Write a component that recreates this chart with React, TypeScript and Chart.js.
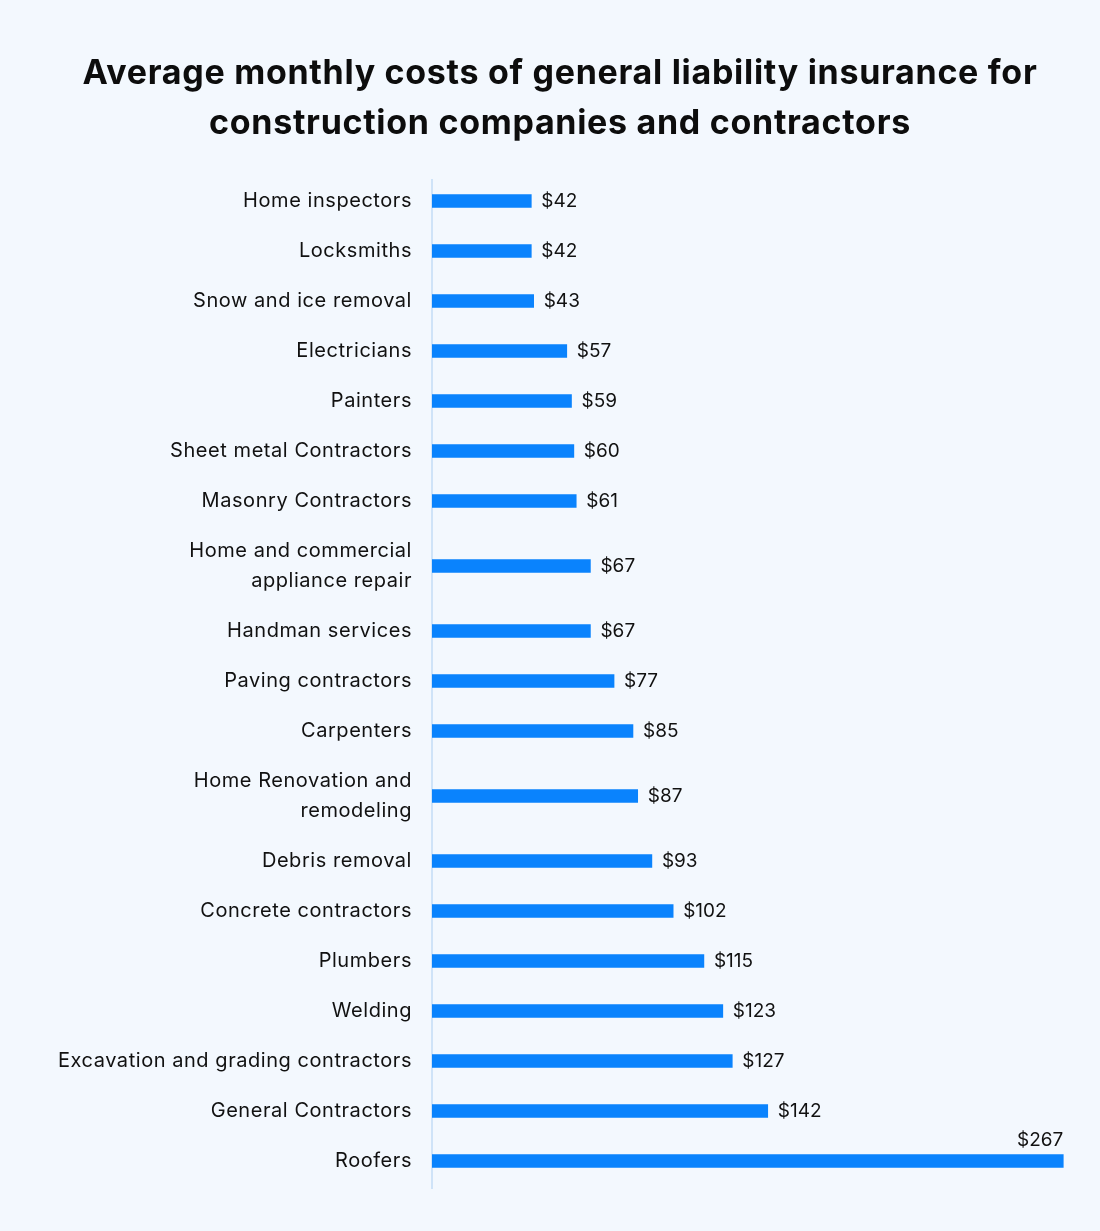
import React, { useEffect, useRef } from "react";
import { Chart, registerables } from "chart.js";

Chart.register(...registerables);

const titleLines = [
  "Average monthly costs of general liability insurance for",
  "construction companies and contractors",
];

const categories: (string | string[])[] = [
  "Home inspectors",
  "Locksmiths",
  "Snow and ice removal",
  "Electricians",
  "Painters",
  "Sheet metal Contractors",
  "Masonry Contractors",
  ["Home and commercial", "appliance repair"],
  "Handman services",
  "Paving contractors",
  "Carpenters",
  ["Home Renovation and", "remodeling"],
  "Debris removal",
  "Concrete contractors",
  "Plumbers",
  "Welding",
  "Excavation and grading contractors",
  "General Contractors",
  "Roofers",
];

const costs = [42, 42, 43, 57, 59, 60, 61, 67, 67, 77, 85, 87, 93, 102, 115, 123, 127, 142, 267];

const valueLabels = costs.map((v) => `$${v}`);

const FONT = "Inter, 'Noto Sans', sans-serif";
const BAR_COLOR = "#0a83fd";
const TEXT_COLOR = "#111111";
const BG = "#f3f8fe";
const LABEL_SPACING = "0.55px";

// Row slots: single-line labels take one slot, two-line labels take a taller slot.
function rowSlots(labels: (string | string[])[]): number[] {
  const out: number[] = [];
  let acc = 0;
  labels.forEach((l, i) => {
    const half = Array.isArray(l) ? 0.8 : 0.5;
    if (i > 0) acc += half;
    out.push(acc);
    acc += half;
  });
  return out;
}

const spacingPlugin = {
  id: "labelSpacing",
  beforeLayout(chart: any) {
    chart.ctx.letterSpacing = LABEL_SPACING;
  },
  beforeDraw(chart: any) {
    chart.ctx.letterSpacing = LABEL_SPACING;
  },
};

const valueLabelPlugin = {
  id: "valueLabels",
  afterDatasetsDraw(chart: any) {
    const { ctx, chartArea } = chart;
    const meta = chart.getDatasetMeta(0);
    ctx.save();
    ctx.letterSpacing = "0px";
    ctx.font = `400 19px ${FONT}`;
    ctx.fillStyle = TEXT_COLOR;
    ctx.textBaseline = "middle";
    meta.data.forEach((bar: any, i: number) => {
      const { x, y } = bar.getProps(["x", "y"], true);
      const text = valueLabels[i];
      const w = ctx.measureText(text).width;
      if (x + 10 + w > chartArea.right) {
        ctx.textAlign = "right";
        ctx.fillText(text, x, y - 21);
      } else {
        ctx.textAlign = "left";
        ctx.fillText(text, x + 10, y);
      }
    });
    ctx.restore();
  },
};

function BarChart() {
  const canvasRef = useRef<HTMLCanvasElement | null>(null);

  useEffect(() => {
    if (!canvasRef.current) return;
    const slots = rowSlots(categories);
    const chart = new Chart(canvasRef.current, {
      type: "bar",
      data: {
        datasets: [
          {
            data: costs.map((v, i) => ({ x: v, y: slots[i] })),
            backgroundColor: BAR_COLOR,
            barThickness: 13,
            borderWidth: 0,
          },
        ],
      },
      options: {
        indexAxis: "y",
        animation: false,
        responsive: false,
        events: [],
        layout: { padding: { top: 180, bottom: 43, left: 0, right: 6 } },
        plugins: {
          legend: { display: false },
          tooltip: { enabled: false },
          title: { display: false },
        },
        scales: {
          x: {
            type: "linear",
            min: 0,
            max: 280,
            display: false,
            grid: { display: false },
          },
          y: {
            type: "linear",
            reverse: true,
            offset: false,
            min: -0.42,
            max: 19.74,
            grid: { display: false, drawTicks: false, offset: false },
            border: { display: true, color: "#cfe3f8", width: 2 },
            afterFit: (scale: any) => {
              scale.width = 432;
            },
            afterBuildTicks: (scale: any) => {
              scale.ticks = slots.map((v) => ({ value: v }));
            },
            ticks: {
              autoSkip: false,
              padding: 20,
              color: TEXT_COLOR,
              font: { family: FONT, size: 20, weight: "400", lineHeight: 1.5 },
              callback: (value: any) => {
                const idx = slots.findIndex((s) => Math.abs(s - value) < 1e-6);
                return idx >= 0 ? categories[idx] : "";
              },
            },
          },
        },
      },
      plugins: [spacingPlugin, valueLabelPlugin],
    } as any);
    return () => chart.destroy();
  }, []);

  return (
    <canvas
      ref={canvasRef}
      width={1100}
      height={1231}
      style={{ position: "absolute", left: 0, top: 0, width: 1100, height: 1231 }}
    />
  );
}

export default function App() {
  return (
    <div
      style={{
        position: "absolute",
        left: 0,
        top: 0,
        width: 1100,
        height: 1231,
        background: BG,
        overflow: "hidden",
      }}
    >
      <BarChart />
      <div
        style={{
          position: "absolute",
          left: 20,
          top: 47,
          width: 1080,
          textAlign: "center",
          fontFamily: FONT,
          fontWeight: 700,
          fontSize: 34,
          letterSpacing: "0.7px",
          lineHeight: "50px",
          color: "#0d0d0d",
          whiteSpace: "nowrap",
        }}
      >
        {titleLines.map((l, i) => (
          <div key={i}>{l}</div>
        ))}
      </div>
    </div>
  );
}
